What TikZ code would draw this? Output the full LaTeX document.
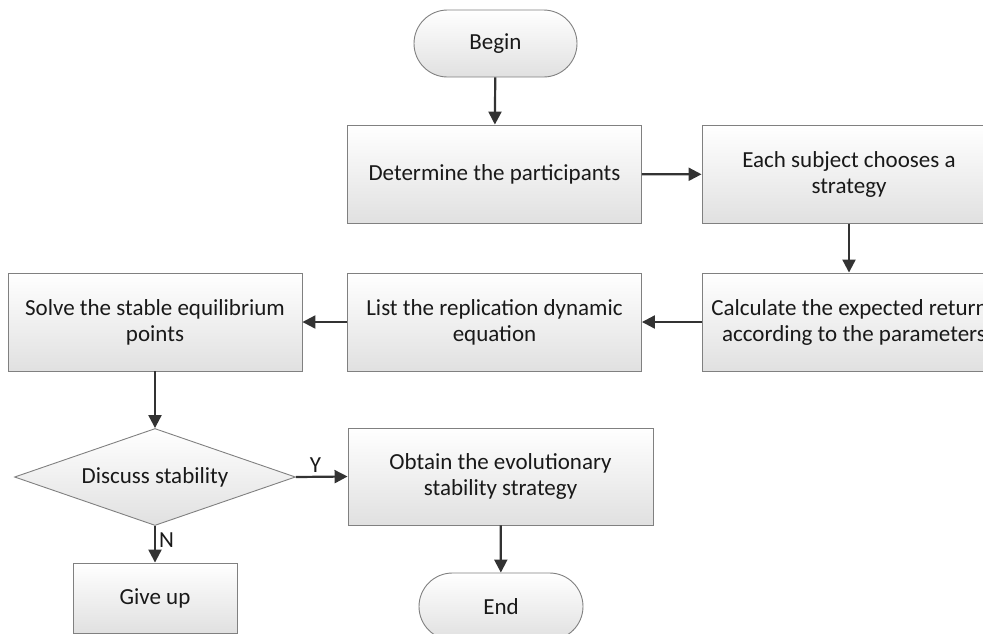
\documentclass[tikz,border=0pt]{standalone}
\usepackage{fontspec}
\setmainfont{Carlito}
\usetikzlibrary{shapes.geometric,shapes.misc,arrows.meta}
\begin{document}
\begin{tikzpicture}[x=1pt,y=-1pt,
  base/.style={draw=black!50, line width=0.9pt, top color=white, bottom color=black!12,
    inner sep=0pt, align=center, font=\fontsize{23}{26}\selectfont, text=black!90},
  procbox/.style={base, rectangle, minimum width=294pt, minimum height=98pt},
  pill/.style={base, rounded rectangle, minimum width=163pt, minimum height=67pt},
  decide/.style={base, diamond, shape aspect=2.9, minimum width=281pt, minimum height=97pt},
  conn/.style={draw=black!80, line width=2.2pt, -{Triangle[length=13pt,width=13pt]}},
  lbl/.style={font=\fontsize{23}{26}\selectfont, text=black!90, inner sep=3pt}]
\useasboundingbox (0,0) rectangle (983,633);
\clip (0,0) rectangle (983,633);
\node[pill] (begin) at (495.5,43.5) {Begin};
\node[procbox] (det) at (494.5,174) {Determine the participants};
\node[procbox] (each) at (849,174.5) {Each subject chooses a\\strategy};
\node[procbox, minimum width=304pt] (calc) at (854,322) {Calculate the expected returns\\according to the parameters};
\node[procbox] (list) at (494.5,322) {List the replication dynamic\\equation};
\node[procbox] (solve) at (155,322) {Solve the stable equilibrium\\points};
\node[decide] (dia) at (155,477) {Discuss stability};
\node[procbox, minimum width=164pt, minimum height=70pt] (give) at (155,598) {Give up};
\node[procbox, minimum width=305pt, minimum height=97pt] (obt) at (500.5,476.5) {Obtain the evolutionary\\stability strategy};
\node[pill, minimum width=164pt] (end) at (501,606.5) {End};
\draw[conn] (begin) -- (det);
\draw[conn] (det) -- (each);
\draw[conn] (each) -- (each |- calc.north);
\draw[conn] (calc) -- (list);
\draw[conn] (list) -- (solve);
\draw[conn] (solve) -- (dia);
\draw[conn] (dia.east) -- node[lbl, above, pos=0.38] (ylab) {Y} (obt.west);
\draw[conn] (dia.south) -- node[lbl, right, pos=0.4] (nlab) {N} (give.north);
\draw[conn] (obt) -- (end);
\end{tikzpicture}
\end{document}
